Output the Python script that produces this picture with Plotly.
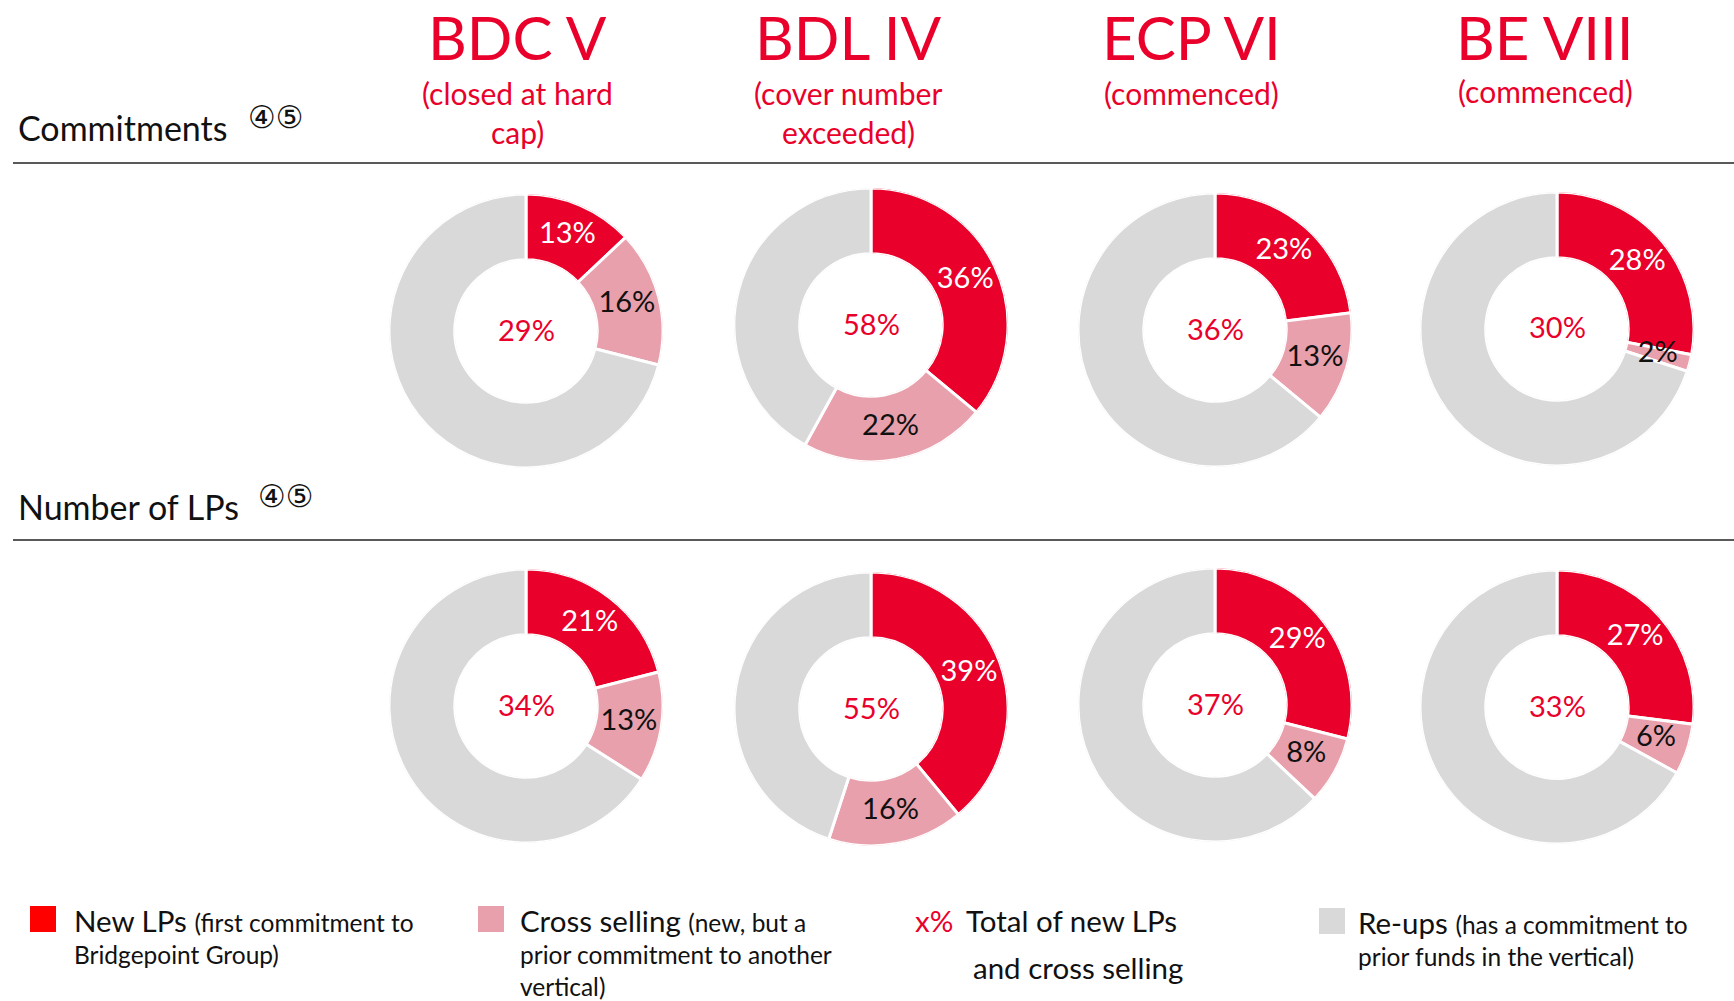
import plotly.graph_objects as go

# ---------------- data ----------------
funds = ["BDC V", "BDL IV", "ECP VI", "BE VIII"]
fund_notes = [["(closed at hard", "cap)"], ["(cover number", "exceeded)"], ["(commenced)"], ["(commenced)"]]
segments = ["New LPs", "Cross selling", "Re-ups"]

commit_new = [13, 36, 23, 28]
commit_cross = [16, 22, 13, 2]
commit_reups = [71, 42, 64, 70]

lps_new = [21, 39, 29, 27]
lps_cross = [13, 16, 8, 6]
lps_reups = [66, 45, 63, 67]

section_titles = ["Commitments", "Number of LPs"]
footnote_marks = "④⑤"

# ---------------- styles ----------------
W, H = 1734, 1001
RED = "#E9002B"
PINK = "#E8A0AC"
GREY = "#D9D9D9"
TXT = "#111111"
FONT = "Lato, 'Open Sans', sans-serif"
HOLE = 0.52

def px(x):
    return x / W

def py(y):
    return 1 - y / H

# donut centres in pixels (layout only)
row_centres_y = [[331, 325, 330, 329], [706, 709, 705, 707]]
col_centres_x = [526, 871, 1215, 1557]
R = 137

fig = go.Figure()
annotations = []
shapes = []
polars = {}

rows = [(commit_new, commit_cross, commit_reups), (lps_new, lps_cross, lps_reups)]
k = 0
for r, (nw, cr, ru) in enumerate(rows):
    for c in range(len(funds)):
        k += 1
        sub = "polar" if k == 1 else f"polar{k}"
        cx, cy = col_centres_x[c], row_centres_y[r][c]
        vals = [nw[c], cr[c], ru[c]]
        # angular positions derived from the shares (percent -> degrees)
        starts = [sum(vals[:i]) for i in range(len(vals))]
        mids = [(s + v / 2) * 3.6 for s, v in zip(starts, vals)]
        widths = [v * 3.6 for v in vals]

        polars[sub] = dict(
            domain=dict(x=[px(cx - R), px(cx + R)], y=[py(cy + R), py(cy - R)]),
            hole=HOLE,
            bgcolor="rgba(0,0,0,0)",
            radialaxis=dict(visible=False, range=[0, 1], showgrid=False, showline=False, showticklabels=False, ticks=""),
            angularaxis=dict(visible=False, rotation=90, direction="clockwise", showgrid=False,
                             showline=False, showticklabels=False, ticks=""),
        )
        fig.add_trace(go.Barpolar(
            r=[1, 1, 1], theta=mids, width=widths, base=0,
            marker=dict(color=[RED, PINK, GREY], line=dict(color="white", width=3)),
            subplot=sub, showlegend=False, hovertext=segments, hoverinfo="text",
        ))
        fig.add_trace(go.Scatterpolar(
            r=[0.5, 0.5], theta=mids[:2], mode="text",
            text=[f"{nw[c]}%", f"{cr[c]}%"],
            textposition="middle center",
            textfont=dict(family=FONT, size=29, color=["white", TXT]),
            subplot=sub, showlegend=False, hoverinfo="skip",
        ))
        annotations.append(dict(x=px(cx), y=py(cy - 2), text=f"{nw[c] + cr[c]}%", showarrow=False,
                                xanchor="center", yanchor="middle",
                                font=dict(family=FONT, size=29, color=RED)))

# fund titles
title_x = [517, 848, 1191, 1545]
for i, f in enumerate(funds):
    annotations.append(dict(x=px(title_x[i]), y=py(37), text=f, showarrow=False,
                            xanchor="center", yanchor="middle",
                            font=dict(family=FONT, size=60, color=RED)))
    for j, line in enumerate(fund_notes[i]):
        yy = 93 + 39 * j if i < 3 else 91 + 39 * j
        annotations.append(dict(x=px(title_x[i]), y=py(yy), text=line, showarrow=False,
                                xanchor="center", yanchor="middle",
                                font=dict(family=FONT, size=30, color=RED)))

# section headers and rules
sec_y = [127, 506]
mark_x = [246, 256]
rule_y = [163, 540]
for q, s in enumerate(section_titles):
    annotations.append(dict(x=px(16), y=py(sec_y[q]), text=s, showarrow=False,
                            xanchor="left", yanchor="middle",
                            font=dict(family=FONT, size=34, color=TXT)))
    annotations.append(dict(x=px(mark_x[q]), y=py(sec_y[q] - 10), text=footnote_marks, showarrow=False,
                            xanchor="left", yanchor="middle",
                            font=dict(family="'DejaVu Sans', 'Noto Sans CJK JP'", size=31, color=TXT)))
    shapes.append(dict(type="line", xref="paper", yref="paper", x0=px(13), x1=1,
                       y0=py(rule_y[q]), y1=py(rule_y[q]), line=dict(color="#222222", width=1.5)))

# legend
SMALL = 24.5
BIG = 29.5

def sq(x0, y0, color):
    shapes.append(dict(type="rect", xref="paper", yref="paper", x0=px(x0), x1=px(x0 + 26),
                       y0=py(y0 + 26), y1=py(y0), line=dict(width=0), fillcolor=color))

def txt(x, y, t, size=BIG, color=TXT):
    annotations.append(dict(x=px(x), y=py(y), text=t, showarrow=False, xanchor="left",
                            yanchor="middle", font=dict(family=FONT, size=size, color=color)))

sq(30, 906, "#FF0000")
txt(72, 920, f"New LPs <span style='font-size:{SMALL}px'>(first commitment to</span>")
txt(72, 954, "Bridgepoint Group)", SMALL)

sq(478, 906, PINK)
txt(518, 920, f"Cross selling <span style='font-size:{SMALL}px'>(new, but a</span>")
txt(518, 954, "prior commitment to another", SMALL)
txt(518, 986, "vertical)", SMALL)

txt(913, 920, "x%", BIG, RED)
txt(964, 920, "Total of new LPs")
txt(971, 967, "and cross selling")

sq(1319, 908, GREY)
txt(1356, 922, f"Re-ups <span style='font-size:{SMALL}px'>(has a commitment to</span>")
txt(1356, 956, "prior funds in the vertical)", SMALL)

fig.update_layout(
    width=W, height=H,
    margin=dict(l=0, r=0, t=0, b=0),
    paper_bgcolor="white", plot_bgcolor="white",
    annotations=annotations, shapes=shapes,
    font=dict(family=FONT),
    **polars,
)

fig.write_html("out.html", config={"displayModeBar": False},
               post_script="document.body.style.margin='0';document.body.style.overflow='hidden';")
